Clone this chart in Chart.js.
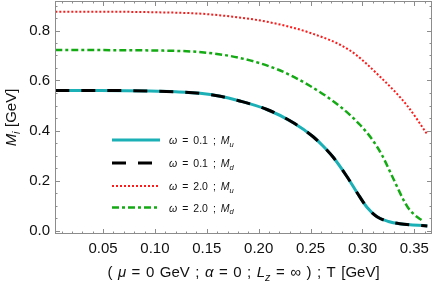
<!DOCTYPE html>
<html>
<head>
<meta charset="utf-8">
<script src="https://cdn.jsdelivr.net/npm/chart.js@4.4.1/dist/chart.umd.min.js"></script>
<style>
  html, body { margin: 0; padding: 0; background: #fff; }
  canvas { display: block; }
</style>
</head>
<body>
<canvas id="massChart" width="436" height="285"></canvas>
<script>
// values: T [GeV] -> M [GeV]
const tLow   = [0.004, 0.047, 0.095, 0.120, 0.1435, 0.163, 0.180, 0.208, 0.233, 0.2525, 0.262, 0.272, 0.285, 0.295, 0.3045, 0.314, 0.325, 0.336, 0.3625];
const muLow  = [0.560, 0.560, 0.558, 0.555, 0.549, 0.537, 0.520, 0.484, 0.432, 0.375, 0.338, 0.292, 0.216, 0.150, 0.092, 0.055, 0.036, 0.027, 0.018];
const mdLow  = [0.560, 0.560, 0.558, 0.555, 0.549, 0.537, 0.520, 0.484, 0.432, 0.375, 0.338, 0.292, 0.216, 0.150, 0.092, 0.055, 0.036, 0.027, 0.018];

const tHighU = [0.004, 0.050, 0.100, 0.145, 0.175, 0.208, 0.250, 0.288, 0.317, 0.343, 0.3624];
const muHigh = [0.875, 0.875, 0.873, 0.867, 0.855, 0.835, 0.790, 0.720, 0.615, 0.500, 0.385];

const tHighD = [0.004, 0.100, 0.145, 0.182, 0.2177, 0.2496, 0.2785, 0.2978, 0.3094, 0.319, 0.3267, 0.3335, 0.3393, 0.3441, 0.3509, 0.3576];
const mdHigh = [0.722, 0.720, 0.713, 0.690, 0.645, 0.578, 0.496, 0.422, 0.364, 0.300, 0.234, 0.174, 0.124, 0.090, 0.060, 0.040];

const xTicks = [0.05, 0.10, 0.15, 0.20, 0.25, 0.30, 0.35];
const yTicks = [0.0, 0.2, 0.4, 0.6, 0.8];
const xRange = [0.0037, 0.367];
const yRange = [-0.014, 0.918];

// legend text pieces: [text, kind]  n = normal, i = italic, s = italic subscript
const seriesLabels = [
  [['ω', 'i'], [' = 0.1 ; ', 'n'], ['M', 'i'], ['u', 's']],
  [['ω', 'i'], [' = 0.1 ; ', 'n'], ['M', 'i'], ['d', 's']],
  [['ω', 'i'], [' = 2.0 ; ', 'n'], ['M', 'i'], ['u', 's']],
  [['ω', 'i'], [' = 2.0 ; ', 'n'], ['M', 'i'], ['d', 's']]
];

const FONT = '"Liberation Sans", Arial, sans-serif';
const FRAME = '#8c8c8c';

function pts(xs, ys) {
  return xs.map((x, i) => ({ x: x, y: ys[i] }));
}

function fontFor(kind, size) {
  const s = kind === 's' ? size * 0.72 : size;
  return (kind === 'n' ? '' : 'italic ') + s + 'px ' + FONT;
}

// measure / draw a run of text with italics and subscripts
function richWidth(ctx, parts, size, spaceW) {
  let w = 0;
  parts.forEach(([txt, kind]) => {
    ctx.font = fontFor(kind, size);
    const chunks = txt.split(' ');
    chunks.forEach((c, i) => {
      w += ctx.measureText(c).width;
      if (i < chunks.length - 1) w += spaceW;
    });
  });
  return w;
}

function drawRich(ctx, parts, x, y, size, spaceW, align) {
  let cx = align === 'center' ? x - richWidth(ctx, parts, size, spaceW) / 2 : x;
  ctx.textBaseline = 'alphabetic';
  ctx.textAlign = 'left';
  parts.forEach(([txt, kind]) => {
    ctx.font = fontFor(kind, size);
    const dy = kind === 's' ? size * 0.28 : 0;
    const chunks = txt.split(' ');
    chunks.forEach((c, i) => {
      ctx.fillText(c, cx, y + dy);
      cx += ctx.measureText(c).width;
      if (i < chunks.length - 1) cx += spaceW;
    });
  });
}

const framePlugin = {
  id: 'framePlugin',
  afterDraw(chart) {
    const ctx = chart.ctx;
    const a = chart.chartArea;
    const xs = chart.scales.x, ys = chart.scales.y;
    ctx.save();
    ctx.strokeStyle = FRAME;
    ctx.lineWidth = 1;
    ctx.strokeRect(a.left + 0.5, a.top + 0.5, a.right - a.left - 1, a.bottom - a.top - 1);

    // ticks on all four sides, pointing inward
    ctx.beginPath();
    for (let k = 1; k <= 36; k++) {
      const v = k / 100;
      const px = Math.round(xs.getPixelForValue(v)) + 0.5;
      const len = k % 5 === 0 ? 5 : 2.5;
      ctx.moveTo(px, a.bottom); ctx.lineTo(px, a.bottom - len);
      ctx.moveTo(px, a.top); ctx.lineTo(px, a.top + len);
    }
    for (let k = 0; k <= 18; k++) {
      const v = k * 0.05;
      const py = Math.round(ys.getPixelForValue(v)) + 0.5;
      const len = k % 4 === 0 ? 5 : 2.5;
      ctx.moveTo(a.left, py); ctx.lineTo(a.left + len, py);
      ctx.moveTo(a.right, py); ctx.lineTo(a.right - len, py);
    }
    ctx.stroke();

    // axis titles
    ctx.fillStyle = '#111';
    drawRich(ctx, [['( ', 'n'], ['μ', 'i'], [' = 0 GeV ; ', 'n'], ['α', 'i'], [' = 0 ; ', 'n'],
      ['L', 'i'], ['z', 's'], [' = ∞ ) ; T [GeV]', 'n']], (a.left + a.right) / 2, 277, 15, 5.5, 'center');
    ctx.save();
    ctx.translate(16, (a.top + a.bottom) / 2);
    ctx.rotate(-Math.PI / 2);
    drawRich(ctx, [['M', 'i'], ['i', 's'], [' [GeV]', 'n']], 0, 0, 15, 4.5, 'center');
    ctx.restore();

    // legend
    const rows = [140, 163, 186, 207.5];
    chart.data.datasets.forEach((ds, i) => {
      ctx.save();
      ctx.strokeStyle = ds.borderColor;
      ctx.lineWidth = ds.borderWidth;
      ctx.setLineDash(ds.borderDash || []);
      ctx.beginPath();
      ctx.moveTo(112, rows[i]);
      ctx.lineTo(160, rows[i]);
      ctx.stroke();
      ctx.restore();
      ctx.fillStyle = '#111';
      drawRich(ctx, seriesLabels[i], 169, rows[i] + 4, 10.5, 5, 'left');
    });
    ctx.restore();
  }
};

function noPad(s) {
  s.paddingTop = 0; s.paddingBottom = 0; s.paddingLeft = 0; s.paddingRight = 0;
}

new Chart(document.getElementById('massChart').getContext('2d'), {
  type: 'line',
  data: {
    datasets: [
      { data: pts(tLow, muLow), borderColor: '#1ab0b6', borderWidth: 3, order: 2 },
      { data: pts(tLow, mdLow), borderColor: '#000000', borderWidth: 3, borderDash: [14, 12], order: 1 },
      { data: pts(tHighU, muHigh), borderColor: '#ff1a1a', borderWidth: 2, borderDash: [2, 2], order: 0 },
      { data: pts(tHighD, mdHigh), borderColor: '#14aa14', borderWidth: 2.5, borderDash: [7, 3, 3, 3], order: 0 }
    ]
  },
  options: {
    responsive: false,
    animation: false,
    events: [],
    layout: { padding: { top: 1, right: 4, left: 0, bottom: 0 } },
    elements: {
      point: { radius: 0 },
      line: { cubicInterpolationMode: 'monotone', fill: false, borderCapStyle: 'butt' }
    },
    plugins: { legend: { display: false }, tooltip: { enabled: false } },
    scales: {
      x: {
        type: 'linear',
        min: xRange[0], max: xRange[1],
        grid: { display: false, drawTicks: false },
        border: { display: false },
        afterBuildTicks: s => { s.ticks = xTicks.map(v => ({ value: v })); },
        afterFit: s => { s.height = 51; noPad(s); },
        ticks: { color: '#111', padding: 6, font: { size: 15, family: FONT }, maxRotation: 0,
          callback: v => v.toFixed(2) }
      },
      y: {
        type: 'linear',
        min: yRange[0], max: yRange[1],
        grid: { display: false, drawTicks: false },
        border: { display: false },
        afterBuildTicks: s => { s.ticks = yTicks.map(v => ({ value: v })); },
        afterFit: s => { s.width = 55; noPad(s); },
        ticks: { color: '#111', padding: 5, font: { size: 15, family: FONT },
          callback: v => v.toFixed(1) }
      }
    }
  },
  plugins: [framePlugin]
});
</script>
</body>
</html>
